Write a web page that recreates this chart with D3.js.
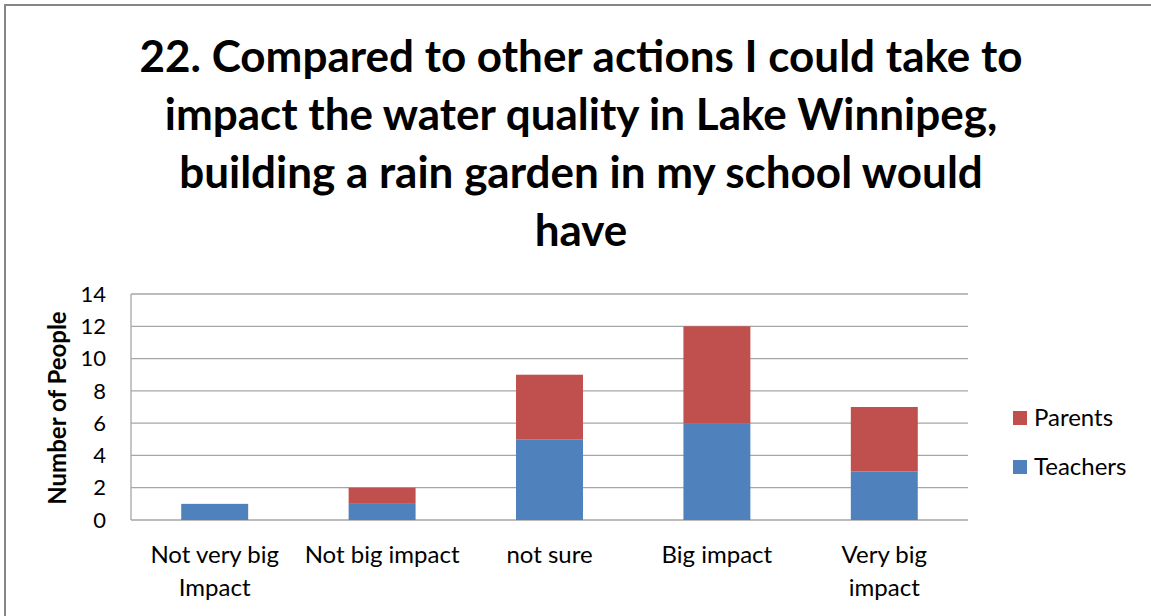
<!DOCTYPE html>
<html><head><meta charset="utf-8">
<script src="https://cdn.jsdelivr.net/npm/d3@7"></script>
<style>body{margin:0;background:#fff}svg{display:block}</style>
</head><body>
<script>
const categories = [["Not very big","Impact"],["Not big impact"],["not sure"],["Big impact"],["Very big","impact"]];
const teachers = [1, 1, 5, 6, 3];
const parents = [0, 1, 4, 6, 4];
const seriesNames = ["Teachers", "Parents"];
const yTicks = [0, 2, 4, 6, 8, 10, 12, 14];
const titleLines = ["22. Compared to other actions I could take to","impact the water quality in Lake Winnipeg,","building a rain garden in my school would","have"];

const W = 1151, H = 616;
const font = "Lato, 'Open Sans', sans-serif";
const svg = d3.select("body").append("svg").attr("width", W).attr("height", H);
svg.append("rect").attr("x",5).attr("y",5).attr("width",W+10).attr("height",H+10)
  .attr("fill","#fff").attr("stroke","#868686").attr("stroke-width",2);

const m = {left:131, right:968, top:294, bottom:520};
const x = d3.scaleBand().domain(d3.range(categories.length)).range([m.left, m.right]).paddingInner(0.6).paddingOuter(0.3);
const y = d3.scaleLinear().domain([0,14]).range([m.bottom, m.top]);

// gridlines
svg.append("g").selectAll("line").data(yTicks).join("line")
  .attr("x1", m.left).attr("x2", m.right).attr("y1", d=>y(d)).attr("y2", d=>y(d))
  .attr("stroke","#a6a6a6").attr("stroke-width",1.3);
svg.append("line").attr("x1",m.left).attr("x2",m.left).attr("y1",m.top).attr("y2",m.bottom)
  .attr("stroke","#a6a6a6").attr("stroke-width",1.3);

// stacked bars
const data = categories.map((c,i)=>({i, Teachers: teachers[i], Parents: parents[i]}));
const stack = d3.stack().keys(seriesNames)(data);
const colors = {Teachers:"#4f81bd", Parents:"#c0504d"};
svg.append("g").selectAll("g").data(stack).join("g").attr("fill", s=>colors[s.key])
  .selectAll("rect").data(s=>s.filter(d=>d[1]-d[0]>0)).join("rect")
  .attr("x", d=>x(d.data.i)).attr("width", x.bandwidth())
  .attr("y", d=>y(d[1])).attr("height", d=>y(d[0])-y(d[1]));

// y tick labels
svg.append("g").selectAll("text").data(yTicks).join("text")
  .attr("x", 106).attr("y", d=>y(d)).attr("dy","0.35em").attr("text-anchor","end")
  .attr("font-family",font).attr("font-size",22).attr("fill","#000").text(d=>d);

// y axis title
svg.append("text").attr("transform","translate(66,408) rotate(-90)").attr("text-anchor","middle")
  .attr("font-family",font).attr("font-weight","bold").attr("font-size",24).text("Number of People");

// category labels
const cl = svg.append("g").selectAll("text").data(categories).join("text")
  .attr("text-anchor","middle").attr("font-family",font).attr("font-size",24).attr("fill","#000");
cl.each(function(lines,i){
  d3.select(this).selectAll("tspan").data(lines).join("tspan")
    .attr("x", x(i)+x.bandwidth()/2).attr("y",(d,j)=>563+j*33).text(d=>d);
});

// legend
const leg = [{k:"Parents",y:418},{k:"Teachers",y:467}];
const lg = svg.append("g").selectAll("g").data(leg).join("g");
lg.append("rect").attr("x",1013).attr("y",d=>d.y-7).attr("width",14).attr("height",14).attr("fill",d=>colors[d.k]);
lg.append("text").attr("x",1034).attr("y",d=>d.y).attr("dy","0.35em").attr("font-family",font).attr("font-size",24).text(d=>d.k);

// title
svg.append("g").selectAll("text").data(titleLines).join("text")
  .attr("x",581).attr("y",(d,i)=>72+i*58).attr("text-anchor","middle")
  .attr("font-family",font).attr("font-weight","bold").attr("font-size",44).attr("fill","#000").text(d=>d);
</script>
</body></html>
